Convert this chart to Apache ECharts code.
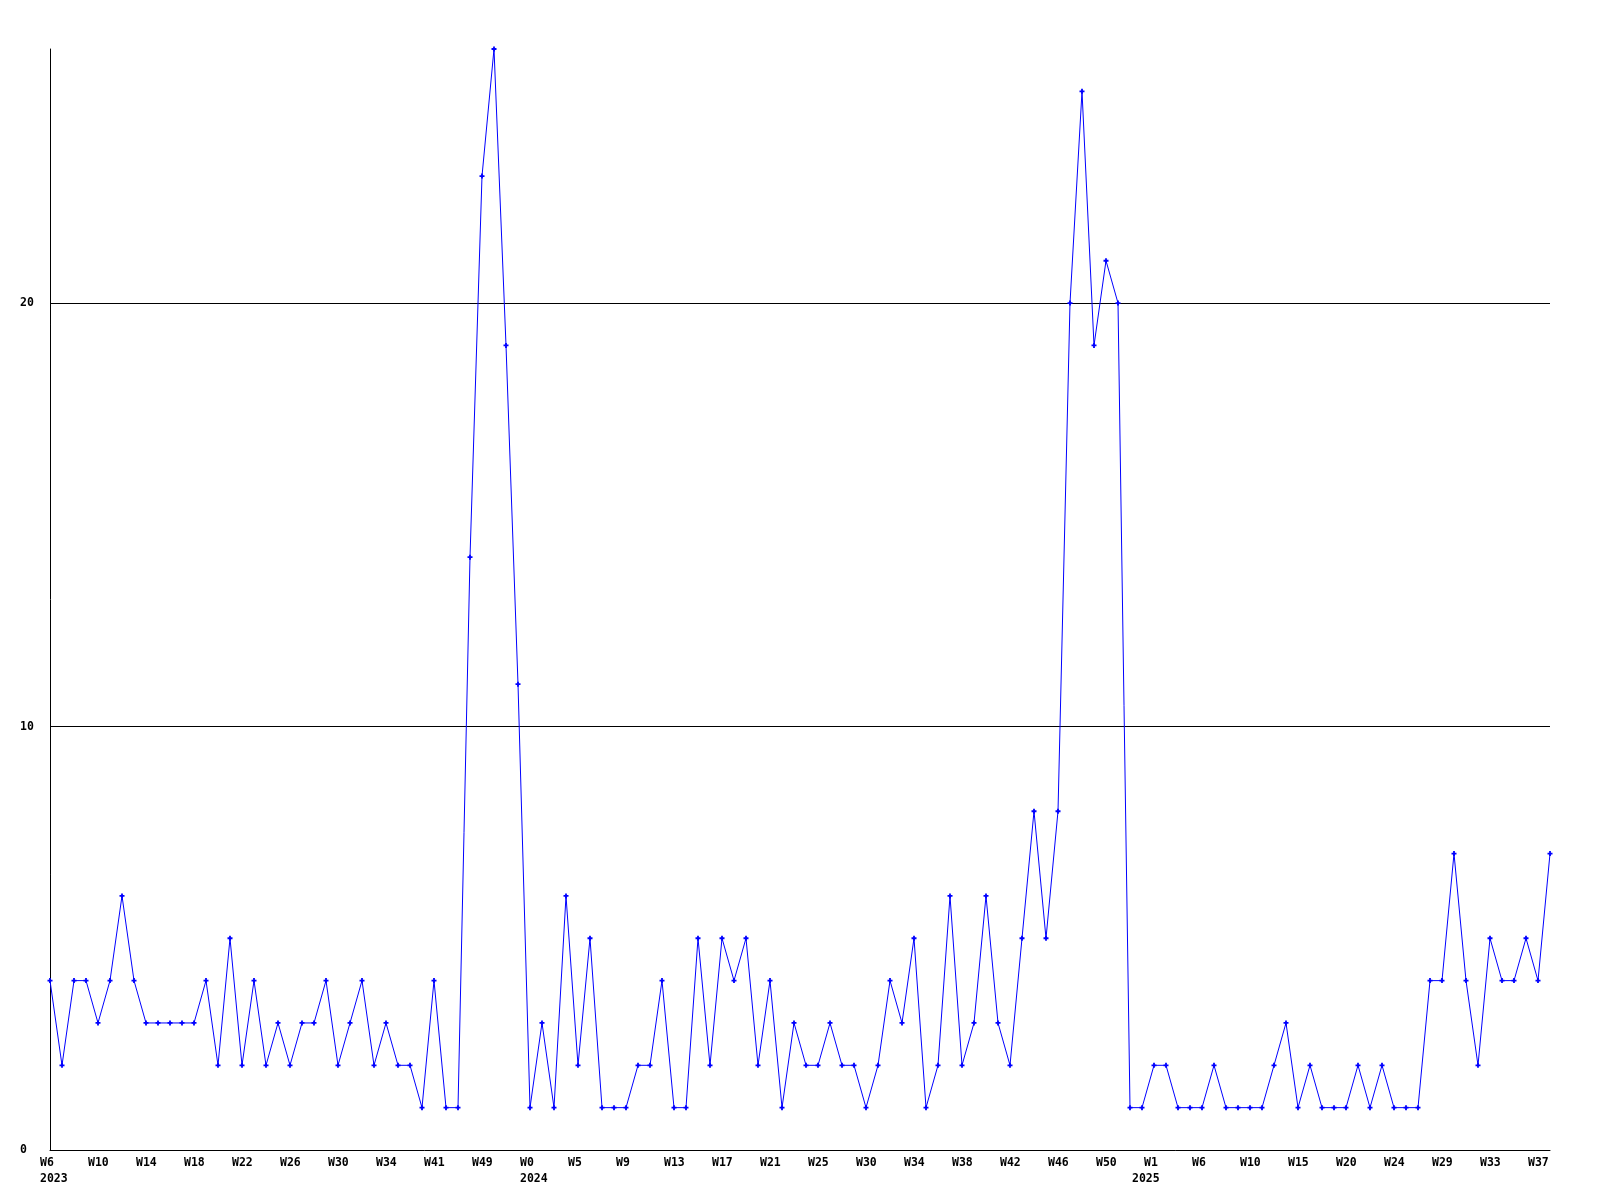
<!DOCTYPE html>
<html>
<head>
<meta charset="utf-8">
<script src="https://cdn.jsdelivr.net/npm/echarts@6/dist/echarts.min.js"></script>
<style>
  html, body { margin: 0; padding: 0; background: #fff; }
  #chart { width: 1600px; height: 1200px; }
</style>
</head>
<body>
<div id="chart"></div>
<script>
// Week categories (one per data point)
const weeks = [
  'W6','W7','W8','W9','W10','W11','W12','W13','W14','W15','W16','W17','W18','W19','W20','W21',
  'W22','W23','W24','W25','W26','W27','W28','W29','W30','W31','W32','W33',
  'W34','W35','W37','W39','W41','W43','W45','W47','W49','W50','W51','W52',
  'W0','W1','W2','W3','W5','W6','W7','W8','W9','W10','W11','W12','W13','W14','W15','W16',
  'W17','W18','W19','W20','W21','W22','W23','W24','W25','W26','W28','W29',
  'W30','W31','W32','W33','W34','W35','W36','W37','W38','W39','W40','W41','W42','W43','W44','W45',
  'W46','W47','W48','W49','W50','W51','W52','W53',
  'W1','W2','W4','W5','W6','W7','W8','W9','W10','W11','W12','W14','W15','W16','W18','W19',
  'W20','W21','W22','W23','W24','W25','W26','W28','W29','W30','W31','W32','W33','W34','W35','W36',
  'W37','W38'
];
// Values per week
const values = [
  4,2,4,4,3,4,6,4,3,3,
  3,3,3,4,2,5,2,4,2,3,
  2,3,3,4,2,3,4,2,3,2,
  2,1,4,1,1,14,23,26,19,11,
  1,3,1,6,2,5,1,1,1,2,
  2,4,1,1,5,2,5,4,5,2,
  4,1,3,2,2,3,2,2,1,2,
  4,3,5,1,2,6,2,3,6,3,
  2,5,8,5,8,20,25,19,21,20,
  1,1,2,2,1,1,1,2,1,1,
  1,1,2,3,1,2,1,1,1,2,
  1,2,1,1,1,4,4,7,4,2,
  5,4,4,5,4,7
];
// Year markers under the axis
const yearStarts = [0, 40, 92];
const years = ['2023', '2024', '2025'];
// Y axis ticks
const yMin = 0, yMax = 26, yStep = 10;

const chart = echarts.init(document.getElementById('chart'), null, { renderer: 'canvas' });
const FONT = 'DejaVu Sans Mono';

chart.setOption({
  animation: false,
  backgroundColor: '#ffffff',
  grid: { left: 50, right: 50, top: 49, bottom: 50, containLabel: false },
  xAxis: {
    type: 'category',
    data: weeks,
    boundaryGap: false,
    axisLine: { show: true, lineStyle: { color: '#000', width: 1 } },
    axisTick: { show: false },
    splitLine: { show: false },
    axisLabel: {
      interval: 3,
      margin: 5,
      align: 'center',
      width: 44,
      overflow: 'none',
      fontFamily: FONT,
      fontWeight: 'bold',
      fontSize: 11.5,
      lineHeight: 16,
      color: '#000',
      formatter: function (val, idx) {
        const yi = yearStarts.indexOf(idx);
        if (yi >= 0) {
          return '{w|' + val + '}\n{' + (idx === 92 ? 'y2' : 'y') + '|' + years[yi] + '}';
        }
        return '{w|' + val + '}';
      },
      rich: {
        w: { align: 'left', padding: [0, 0, 0, 12], fontFamily: FONT, fontWeight: 'bold', fontSize: 11.5, lineHeight: 16, color: '#000' },
        y: { align: 'left', padding: [0, 0, 0, 12], fontFamily: FONT, fontWeight: 'bold', fontSize: 11.5, lineHeight: 16, color: '#000' },
        y2: { align: 'left', padding: [0, 0, 0, 0], fontFamily: FONT, fontWeight: 'bold', fontSize: 11.5, lineHeight: 16, color: '#000' }
      }
    }
  },
  yAxis: {
    type: 'value',
    min: yMin,
    max: yMax,
    interval: yStep,
    axisLine: { show: true, lineStyle: { color: '#000', width: 1 } },
    axisTick: { show: false },
    splitLine: { show: true, showMinLine: false, showMaxLine: false, lineStyle: { color: '#000', width: 1 } },
    axisLabel: {
      showMaxLabel: false,
      align: 'left',
      margin: 30,
      fontFamily: FONT,
      fontWeight: 'bold',
      fontSize: 11.5,
      color: '#000',
      formatter: function (v) { return v === yMax ? '' : String(v); }
    }
  },
  series: [{
    type: 'line',
    data: values,
    showAllSymbol: true,
    symbol: 'path://M1.6,0H3.4V1.6H5V3.4H3.4V5H1.6V3.4H0V1.6H1.6Z',
    symbolSize: 5,
    lineStyle: { color: '#0000ff', width: 1 },
    itemStyle: { color: '#0000ff' },
    emphasis: { disabled: true }
  }]
});
</script>
</body>
</html>
